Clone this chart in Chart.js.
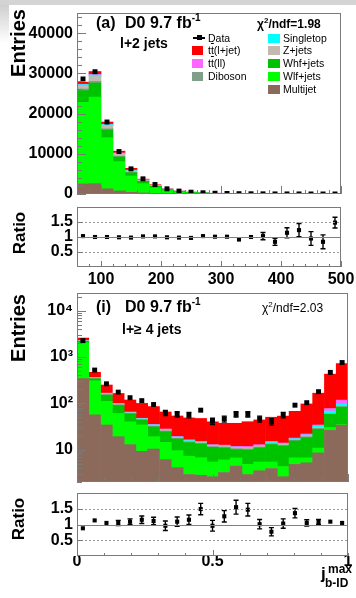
<!DOCTYPE html>
<html>
<head>
<meta charset="utf-8">
<script src="https://cdn.jsdelivr.net/npm/chart.js@4.4.1/dist/chart.umd.min.js"></script>
<style>
  html, body { margin: 0; padding: 0; }
  body { width: 356px; height: 598px; position: relative; overflow: hidden; background: #fff;
         font-family: "Liberation Sans", Arial, sans-serif; color: #000; }
  canvas { position: absolute; left: 0; }
  .t { position: absolute; white-space: nowrap; line-height: 1; }
  .b { font-weight: bold; }
  .rot { transform: translate(-50%, -50%) rotate(-90deg); }
  .sw { position: absolute; width: 11px; height: 9px; }
  .ov { text-decoration: overline; }
  .up { position: relative; font-size: 10px; top: -7px; }
  .up2 { position: relative; font-size: 8px; top: -5px; }
</style>
</head>
<body>
<div style="position:absolute;left:0;top:0;width:356px;height:5px;background:#d4d4d4"></div>
<div style="position:absolute;left:0;top:5px;width:9px;height:38px;background:linear-gradient(#cfcfcf,#fff)"></div>

<canvas id="ptMain" width="356" height="200" style="top:0"></canvas>
<canvas id="ptRatio" width="356" height="92" style="top:200px"></canvas>
<canvas id="bidMain" width="356" height="198" style="top:288px"></canvas>
<canvas id="bidRatio" width="356" height="112" style="top:486px"></canvas>

<!-- upper panel: l+2 jets -->
<div class="t b rot" style="left:17.5px;top:42.5px;font-size:20px;position:absolute">Entries</div>
<div class="t b rot" style="left:18.5px;top:233px;font-size:17px;position:absolute">Ratio</div>
<div class="t b" style="left:96px;top:15px;font-size:16px">(a)</div>
<div class="t b" style="left:125px;top:15px;font-size:16px">D0 9.7 fb<span class="up">-1</span></div>
<div class="t b" style="left:257px;top:18px;font-size:12px">χ<span class="up2">2</span>/ndf=1.98</div>
<div class="t b" style="left:120px;top:36px;font-size:14px">l+2 jets</div>

<div style="position:absolute;left:193px;top:37px;width:12px;height:1.5px;background:#000"></div>
<div style="position:absolute;left:196.5px;top:35.2px;width:5px;height:5px;background:#000"></div>
<div class="t" style="left:208px;top:32.6px;font-size:10.5px">Data</div>
<div class="sw" style="left:192px;top:46px;background:#ff0000"></div>
<div class="t" style="left:208px;top:45.4px;font-size:10.5px">t<span class="ov">t</span>(l+jet)</div>
<div class="sw" style="left:192px;top:59px;background:#ff66ff"></div>
<div class="t" style="left:208px;top:58.4px;font-size:10.5px">t<span class="ov">t</span>(ll)</div>
<div class="sw" style="left:192px;top:72px;background:#809f8b"></div>
<div class="t" style="left:208px;top:71.4px;font-size:10.5px">Diboson</div>
<div class="sw" style="left:268px;top:33.5px;width:12px;background:#00ffff"></div>
<div class="t" style="left:283px;top:32.6px;font-size:10.5px">Singletop</div>
<div class="sw" style="left:268px;top:46px;width:12px;background:#c3b9ae"></div>
<div class="t" style="left:283px;top:45.4px;font-size:10.5px">Z+jets</div>
<div class="sw" style="left:268px;top:59px;width:12px;background:#00c300"></div>
<div class="t" style="left:283px;top:58.4px;font-size:10.5px">Whf+jets</div>
<div class="sw" style="left:268px;top:72px;width:12px;background:#00ff00"></div>
<div class="t" style="left:283px;top:71.4px;font-size:10.5px">Wlf+jets</div>
<div class="sw" style="left:268px;top:85px;width:12px;background:#8c6a5b"></div>
<div class="t" style="left:283px;top:84.4px;font-size:10.5px">Multijet</div>

<!-- lower panel: l+>=4 jets -->
<div class="t b rot" style="left:17.5px;top:328px;font-size:20px;position:absolute">Entries</div>
<div class="t b rot" style="left:18px;top:519px;font-size:17px;position:absolute">Ratio</div>
<div class="t b" style="left:96px;top:299px;font-size:16px">(i)</div>
<div class="t b" style="left:125px;top:299px;font-size:16px">D0 9.7 fb<span class="up">-1</span></div>
<div class="t" style="left:262px;top:302px;font-size:12px">χ<span class="up2">2</span>/ndf=2.03</div>
<div class="t b" style="left:122px;top:321.5px;font-size:14px">l+≥ 4 jets</div>
<div class="t b" style="left:321px;top:565px;font-size:17px">j</div>
<div class="t b" style="left:328px;top:563px;font-size:12px">max</div>
<div class="t b" style="left:325px;top:576.5px;font-size:12px">b-ID</div>

<script>
// ---- l+2 jets: 20 GeV bins between 60 and 500 ----
const ptCenters = [70, 90, 110, 130, 150, 170, 190, 210, 230, 250, 270, 290, 310, 330, 350, 370, 390, 410, 430, 450, 470, 490];
const ptMultijet = [2500, 2600, 1300, 750, 420, 270, 170, 110, 60, 40, 25, 16, 10, 7, 5, 3.5, 2.5, 1.6, 1.1, 0.8, 0.5, 0.35];
const ptWlf = [20300, 21500, 12700, 7300, 4050, 2300, 1350, 740, 410, 255, 160, 102, 67, 45, 30, 20, 13.5, 9, 6.2, 4.1, 2.8, 1.9];
const ptWhf = [2900, 3500, 1900, 1150, 800, 560, 380, 220, 130, 85, 55, 36, 24, 16, 11, 7.5, 5.2, 3.5, 2.4, 1.6, 1.1, 0.75];
const ptDiboson = [400, 400, 300, 200, 120, 80, 60, 40, 25, 15, 10, 7, 5, 3, 2, 1.5, 1, 0.7, 0.5, 0.3, 0.2, 0.15];
const ptZjets = [800, 1200, 800, 550, 380, 200, 140, 80, 45, 30, 18, 12, 8, 5, 3.5, 2.5, 1.7, 1.2, 0.8, 0.5, 0.4, 0.25];
const ptSingletop = [300, 400, 250, 180, 120, 80, 60, 40, 25, 15, 10, 7, 5, 3, 2, 1.5, 1, 0.7, 0.5, 0.3, 0.2, 0.15];
const ptTtDilep = [100, 150, 100, 70, 50, 40, 30, 15, 10, 7, 5, 3, 2, 1.5, 1, 0.6, 0.4, 0.3, 0.2, 0.15, 0.1, 0.05];
const ptTtLepjet = [500, 700, 550, 450, 440, 170, 120, 55, 30, 17, 8, 5, 3, 2.5, 1.5, 0.9, 0.7, 0.5, 0.3, 0.25, 0.2, 0.1];
const ptData = [28600, 30400, 17900, 10550, 6250, 3770, 2360, 1290, 720, 450, 300, 190, 125, 76, 56, 39, 22, 20, 15, 7.6, 4.6, 5.5];
const ptRatio = [1.03, 1.0, 1.0, 0.99, 0.98, 1.02, 1.02, 0.99, 0.98, 0.97, 1.03, 1.01, 1.01, 0.915, 1.0, 1.03, 0.84, 1.14, 1.23, 0.95, 0.84, 1.48];
const ptRatioErr = [0.006, 0.006, 0.008, 0.01, 0.013, 0.016, 0.02, 0.028, 0.035, 0.04, 0.045, 0.05, 0.08, 0.075, 0.08, 0.12, 0.12, 0.17, 0.22, 0.23, 0.23, 0.18];
const ptTickLabels = [100, 200, 300, 400, 500];
const countTickLabels = [0, 10000, 20000, 30000, 40000];

// ---- l+>=4 jets: maximum b-ID output of the jets ----
const bidCenters = [0.0217, 0.0652, 0.1087, 0.1522, 0.1957, 0.2391, 0.2826, 0.3261, 0.3696, 0.4130, 0.4565, 0.5000,
                    0.5435, 0.5870, 0.6304, 0.6739, 0.7174, 0.7609, 0.8043, 0.8478, 0.8913, 0.9348, 0.9783];
const bidMultijet = [340, 56, 34, 19, 12.8, 9.2, 10.3, 6.1, 4.1, 2.9, 2.8, 2.6, 3.2, 4.4, 2.9, 3.5, 3.9, 2.6, 4.8, 5.2, 8.5, 26, 34];
const bidWlf = [1680, 250, 76, 41, 27, 25, 8.7, 8.2, 5.4, 4.3, 3.9, 2.8, 2.8, 2.2, 1.9, 1.9, 1.5, 1.7, 1.85, 1.45, 2.3, 4, 1];
const bidWhf = [150, 30, 40, 30, 19, 9, 12, 10, 7.5, 7, 6.5, 5.8, 4.8, 3.4, 5.0, 5.5, 7.5, 7.6, 8.8, 11.5, 16.8, 28, 48];
const bidDiboson = [30, 8, 4, 3, 2, 1.5, 1.2, 1, 0.6, 0.6, 0.5, 0.5, 0.5, 0.5, 0.5, 0.5, 0.5, 0.5, 0.6, 0.8, 1, 1, 1];
const bidZjets = [40, 8, 6, 3, 2, 1.2, 1.2, 1, 0.6, 0.5, 0.5, 0.4, 0.4, 0.4, 0.4, 0.4, 0.5, 0.5, 0.5, 0.8, 1.4, 1, 1];
const bidSingletop = [10, 2, 3, 1.5, 1, 0.8, 0.8, 0.8, 0.5, 0.5, 0.4, 0.4, 0.4, 0.4, 0.5, 0.5, 0.5, 0.5, 0.6, 1, 2, 8, 11];
const bidTtDilep = [5, 2, 3, 1.5, 1, 0.8, 0.8, 0.8, 0.5, 0.5, 0.4, 0.3, 0.4, 0.4, 0.5, 0.5, 0.6, 0.5, 0.6, 1, 2, 9, 21];
const bidTtLepjet = [305, 110, 82, 64, 53, 52, 50, 37, 34, 32, 32, 27, 24.5, 25.3, 28.3, 31, 35, 39, 49.3, 75, 131, 349, 603];
const bidData = [2250, 521, 263, 174, 132, 114, 94, 62, 58, 56, 71, 41, 46, 58, 58, 46, 40, 56, 91, 103, 178, 464, 757];
const bidDataErr = [47, 23, 16, 13, 11.5, 10.7, 9.7, 7.9, 7.6, 7.5, 8.4, 6.4, 6.8, 7.6, 7.6, 6.8, 6.3, 7.5, 9.5, 10.1, 13.3, 21.5, 27.5];
const bidRatio = [0.88, 1.13, 1.05, 1.05, 1.09, 1.15, 1.11, 0.96, 1.09, 1.15, 1.49, 0.96, 1.26, 1.55, 1.47, 1.01, 0.77, 1.03, 1.36, 1.05, 1.08, 1.09, 1.05];
const bidRatioErr = [0.02, 0.05, 0.07, 0.08, 0.09, 0.12, 0.12, 0.15, 0.15, 0.15, 0.18, 0.17, 0.18, 0.22, 0.2, 0.15, 0.13, 0.15, 0.15, 0.1, 0.08, 0.05, 0.04];
const bidTickLabels = [0, 0.5, 1];
const logTickLabels = [10, 100, 1000, 10000];
const ratioTickLabels = [0.5, 1, 1.5];

// backgrounds stacked from the bottom up
const stackStyle = [
  ['Multijet', '#8c6a5b'], ['Wlf+jets', '#00ff00'], ['Whf+jets', '#00c300'], ['Diboson', '#809f8b'],
  ['Z+jets', '#c3b9ae'], ['Singletop', '#00ffff'], ['tt(ll)', '#ff66ff'], ['tt(l+jet)', '#ff0000']
];

const tickFont = { family: 'Liberation Sans', size: 16, weight: 'bold' };
const noGrid = { display: false, drawTicks: false };
const logLabels = { 10: '10', 100: '10²', 1000: '10³', 10000: '10⁴' };

function points(xs, ys) {
  return xs.map((x, i) => ({ x, y: ys[i] }));
}

function fixedTicks(values) {
  return scale => { scale.ticks = values.map(value => ({ value })); };
}

// keep the plot frame where the layout padding puts it
function noLabelMargins(s) {
  s.paddingTop = 0;
  s.paddingBottom = 0;
  s.paddingLeft = 0;
  s.paddingRight = 0;
}

function ticksEvery(from, to, step, len) {
  const out = [];
  for (let v = from; v <= to + 1e-9; v += step) out.push([+v.toFixed(6), len]);
  return out;
}

function logMinorTicks(min, max, len) {
  const out = [];
  for (let d = 1; d <= max; d *= 10) {
    for (let k = 2; k <= 9; k++) {
      if (k * d >= min && k * d <= max) out.push([k * d, len]);
    }
  }
  return out;
}

function stackSets(centers, parts) {
  return parts.map((vals, k) => ({
    label: stackStyle[k][0],
    data: points(centers, vals),
    backgroundColor: stackStyle[k][1],
    stack: 'mc',
    barPercentage: 1,
    categoryPercentage: 1,
    borderWidth: 0
  }));
}

function dataSet(centers, vals, errs, radius) {
  return {
    type: 'line',
    label: 'Data',
    data: points(centers, vals),
    errors: errs,
    showLine: false,
    stack: 'data',
    pointStyle: 'rect',
    pointRadius: radius,
    pointBackgroundColor: '#000',
    pointBorderWidth: 0
  };
}

// frame, inward tick marks and the reference lines of the ratio panels
const framePlugin = {
  id: 'frame',
  afterDatasetsDraw(chart, args, opts) {
    const { ctx, chartArea: a } = chart;
    const xs = chart.scales.x, ys = chart.scales.y;
    const hline = (v, dash) => {
      const py = Math.round(ys.getPixelForValue(v)) + 0.5;
      ctx.setLineDash(dash);
      ctx.beginPath();
      ctx.moveTo(a.left, py);
      ctx.lineTo(a.right, py);
      ctx.stroke();
    };
    ctx.save();
    ctx.lineWidth = 1;
    ctx.strokeStyle = '#9a9a9a';
    (opts.dotted || []).forEach(v => hline(v, [2, 2]));
    ctx.strokeStyle = '#808080';
    (opts.solid || []).forEach(v => hline(v, []));
    ctx.setLineDash([]);
    ctx.strokeStyle = '#7a7a7a';
    ctx.strokeRect(Math.round(a.left) + 0.5, Math.round(a.top) + 0.5,
                   Math.round(a.right - a.left) - 1, Math.round(a.bottom - a.top) - 1);
    ctx.beginPath();
    (opts.xTicks || []).forEach(([v, len]) => {
      const px = Math.round(xs.getPixelForValue(v)) + 0.5;
      ctx.moveTo(px, a.bottom);
      ctx.lineTo(px, a.bottom - len);
    });
    (opts.yTicks || []).forEach(([v, len]) => {
      const py = Math.round(ys.getPixelForValue(v)) + 0.5;
      ctx.moveTo(a.left, py);
      ctx.lineTo(a.left + len, py);
    });
    ctx.stroke();
    ctx.restore();
  }
};

// vertical error bars with end caps for datasets that carry "errors"
const errorBarPlugin = {
  id: 'errorBars',
  afterDatasetsDraw(chart) {
    const { ctx } = chart;
    const ys = chart.scales.y;
    chart.data.datasets.forEach((ds, i) => {
      if (!ds.errors) return;
      const meta = chart.getDatasetMeta(i);
      ctx.save();
      ctx.strokeStyle = '#000';
      ctx.lineWidth = 1.4;
      meta.data.forEach((pt, j) => {
        const v = ds.data[j].y, e = ds.errors[j];
        const top = ys.getPixelForValue(v + e);
        const bot = ys.getPixelForValue(Math.max(v - e, ys.min));
        if (bot - top < 5) return;
        ctx.beginPath();
        ctx.moveTo(pt.x, top); ctx.lineTo(pt.x, bot);
        ctx.moveTo(pt.x - 2.5, top); ctx.lineTo(pt.x + 2.5, top);
        ctx.moveTo(pt.x - 2.5, bot); ctx.lineTo(pt.x + 2.5, bot);
        ctx.stroke();
      });
      ctx.restore();
    });
  }
};

function options(padding, frame, x, y) {
  return {
    responsive: false,
    animation: false,
    layout: { padding },
    plugins: { legend: { display: false }, tooltip: { enabled: false }, frame },
    scales: { x, y }
  };
}

function yAxis(extra, labels, fmt) {
  return Object.assign({
    afterBuildTicks: fixedTicks(labels),
    ticks: { font: tickFont, color: '#000', padding: 4, autoSkip: false, callback: fmt },
    grid: noGrid,
    border: { display: false },
    afterFit: s => { s.width = 77; noLabelMargins(s); }
  }, extra);
}

function xAxis(extra, labels, height, pad) {
  return Object.assign({
    type: 'linear',
    offset: false,
    afterBuildTicks: fixedTicks(labels),
    ticks: { font: tickFont, color: '#000', padding: pad, autoSkip: false, maxRotation: 0,
             callback: v => String(v) },
    grid: noGrid,
    border: { display: false },
    afterFit: s => { s.height = height; noLabelMargins(s); }
  }, extra);
}

const plugins = [errorBarPlugin, framePlugin];

// upper main panel
new Chart(document.getElementById('ptMain'), {
  type: 'bar',
  data: {
    datasets: [dataSet(ptCenters, ptData, null, 3.5)].concat(stackSets(ptCenters,
      [ptMultijet, ptWlf, ptWhf, ptDiboson, ptZjets, ptSingletop, ptTtDilep, ptTtLepjet]))
  },
  options: options({ top: 13, right: 15, bottom: 6, left: 0 },
    {
      xTicks: ticksEvery(60, 500, 20, 4).concat(ticksEvery(100, 500, 100, 8)),
      yTicks: ticksEvery(0, 44000, 2000, 5).concat(ticksEvery(0, 40000, 10000, 9))
    },
    xAxis({ min: 60, max: 500, stacked: true, display: false }, ptTickLabels, 0, 0),
    yAxis({ type: 'linear', min: 0, max: 45000, stacked: true }, countTickLabels, v => String(v))),
  plugins
});

// upper ratio panel
new Chart(document.getElementById('ptRatio'), {
  type: 'line',
  data: { datasets: [dataSet(ptCenters, ptRatio, ptRatioErr, 2.9)] },
  options: options({ top: 7, right: 15, bottom: 0, left: 0 },
    {
      dotted: [0.5, 1.5], solid: [1],
      xTicks: ticksEvery(60, 500, 20, 3).concat(ticksEvery(100, 500, 100, 6)),
      yTicks: ratioTickLabels.map(v => [v, 6])
    },
    xAxis({ min: 60, max: 500 }, ptTickLabels, 25, 3),
    yAxis({ type: 'linear', min: 0, max: 2 }, ratioTickLabels, v => String(v))),
  plugins
});

// lower main panel, log scale
new Chart(document.getElementById('bidMain'), {
  type: 'bar',
  data: {
    datasets: [dataSet(bidCenters, bidData, bidDataErr, 3.5)].concat(stackSets(bidCenters,
      [bidMultijet, bidWlf, bidWhf, bidDiboson, bidZjets, bidSingletop, bidTtDilep, bidTtLepjet]))
  },
  options: options({ top: 5, right: 8, bottom: 4, left: 0 },
    {
      xTicks: ticksEvery(0, 1, 0.1, 4).concat(bidTickLabels.map(v => [v, 8])),
      yTicks: logMinorTicks(2, 24000, 5).concat(logTickLabels.map(v => [v, 9]))
    },
    xAxis({ min: 0, max: 1, stacked: true, display: false }, bidTickLabels, 0, 0),
    yAxis({ type: 'logarithmic', min: 2, max: 24000, stacked: true }, logTickLabels, v => logLabels[v] || '')),
  plugins
});

// lower ratio panel
new Chart(document.getElementById('bidRatio'), {
  type: 'line',
  data: { datasets: [dataSet(bidCenters, bidRatio, bidRatioErr, 2.9)] },
  options: options({ top: 7, right: 8, bottom: 0, left: 0 },
    {
      dotted: [0.5, 1.5], solid: [1],
      xTicks: ticksEvery(0, 1, 0.1, 3).concat([[0.5, 6]]),
      yTicks: ratioTickLabels.map(v => [v, 6])
    },
    xAxis({ min: 0, max: 1 }, bidTickLabels, 42, -4),
    yAxis({ type: 'linear', min: 0, max: 2 }, ratioTickLabels, v => String(v))),
  plugins
});
</script>
</body>
</html>
